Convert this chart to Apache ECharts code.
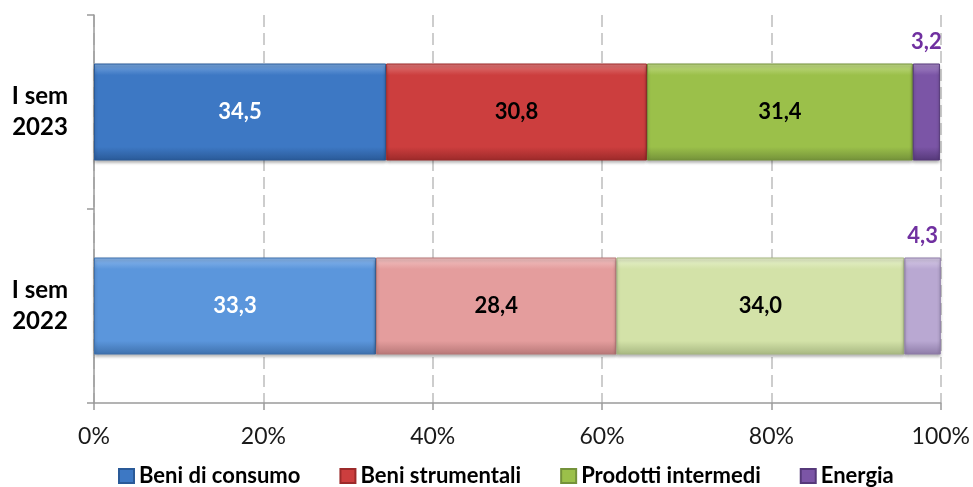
<!DOCTYPE html>
<html>
<head>
<meta charset="utf-8">
<style>
  html, body { margin: 0; padding: 0; background: #ffffff; }
  #chart { width: 973px; height: 487px; }
</style>
<script src="https://cdn.jsdelivr.net/npm/echarts@6/dist/echarts.min.js"></script>
</head>
<body>
<div id="chart"></div>
<script>
// Composition by product group (%), first half of the year
const categories = ['I sem\n2022', 'I sem\n2023'];
const seriesNames = ['Beni di consumo', 'Beni strumentali', 'Prodotti intermedi', 'Energia'];
const beniConsumo = [33.3, 34.5];
const beniStrumentali = [28.4, 30.8];
const prodottiIntermedi = [34.0, 31.4];
const energia = [4.3, 3.2];
const xTickValues = [0, 20, 40, 60, 80, 100];

const seriesValues = [beniConsumo, beniStrumentali, prodottiIntermedi, energia];

// [light edge, body, dark edge] for 2023 (strong) and 2022 (pale)
const palette2023 = [
  ['#7aa8e0', '#3d78c4', '#2a5a98'],
  ['#e07a7a', '#cc3e3e', '#9c2a2a'],
  ['#c4dc8a', '#9bc04a', '#74923a'],
  ['#a88ac8', '#7b55a6', '#56397a']
];
const palette2022 = [
  ['#8cb8ec', '#5b96dc', '#3f71ad'],
  ['#f2c4c4', '#e49d9d', '#b87878'],
  ['#e8f2cf', '#d3e2a8', '#a8b882'],
  ['#d8cce8', '#b9a8d2', '#8e7ca8']
];
const labelColors = ['#ffffff', '#000000', '#000000', '#7030a0'];

function bevel(c) {
  return new echarts.graphic.LinearGradient(0, 0, 0, 1, [
    { offset: 0, color: c[0] },
    { offset: 0.12, color: c[1] },
    { offset: 0.86, color: c[1] },
    { offset: 1, color: c[2] }
  ]);
}

const fmt = p => p.value.toFixed(1).replace('.', ',');
const FONT = 'Lato, "Open Sans", sans-serif';

const series = seriesNames.map((name, i) => {
  const isTop = i === 3;
  return {
    name: name,
    type: 'bar',
    stack: 'total',
    barWidth: '50%',
    itemStyle: {
      color: bevel(palette2023[i]),
      borderColor: palette2023[i][2],
      borderWidth: 1,
      shadowColor: 'rgba(0,0,0,0.3)',
      shadowBlur: 3,
      shadowOffsetY: 2
    },
    label: {
      show: true,
      position: isTop ? 'top' : 'inside',
      distance: 11,
      formatter: fmt,
      color: labelColors[i],
      fontFamily: FONT,
      fontWeight: 'bold',
      fontSize: 22
    },
    data: seriesValues[i].map((v, k) => ({
      value: v,
      itemStyle: k === 0 ? {
        color: bevel(palette2022[i]),
        borderColor: palette2022[i][2]
      } : undefined
    }))
  };
});

const chart = echarts.init(document.getElementById('chart'), null, { renderer: 'canvas' });
chart.setOption({
  animation: false,
  backgroundColor: '#ffffff',
  grid: { left: 94, right: 32, top: 15, bottom: 84, containLabel: false },
  legend: {
    data: seriesNames,
    bottom: 0,
    left: 113,
    padding: [5, 5, 0, 5],
    itemWidth: 15,
    itemHeight: 14,
    itemGap: 39,
    icon: 'rect',
    textStyle: { fontFamily: FONT, fontWeight: 'bold', fontSize: 22, color: '#000000' }
  },
  xAxis: {
    type: 'value',
    min: 0,
    max: 100,
    interval: 20,
    axisLine: { show: true, lineStyle: { color: '#9a9a9a', width: 1.5 } },
    axisTick: { show: true, length: 7, lineStyle: { color: '#9a9a9a', width: 1.5 } },
    splitLine: { show: true, lineStyle: { color: '#bdbdbd', type: [12, 6], width: 1.5 } },
    axisLabel: {
      margin: 22,
      fontFamily: FONT,
      fontSize: 23,
      color: '#1a1a1a',
      formatter: v => (xTickValues.includes(v) ? v + '%' : '')
    }
  },
  yAxis: {
    type: 'category',
    data: categories,
    axisLine: { show: true, lineStyle: { color: '#9a9a9a', width: 1.5 } },
    axisTick: { show: true, length: 7, lineStyle: { color: '#9a9a9a', width: 1.5 } },
    axisLabel: {
      margin: 54,
      fontFamily: FONT,
      fontWeight: 'bold',
      fontSize: 24,
      lineHeight: 31,
      color: '#000000',
      align: 'center'
    }
  },
  series: series
});
</script>
</body>
</html>
